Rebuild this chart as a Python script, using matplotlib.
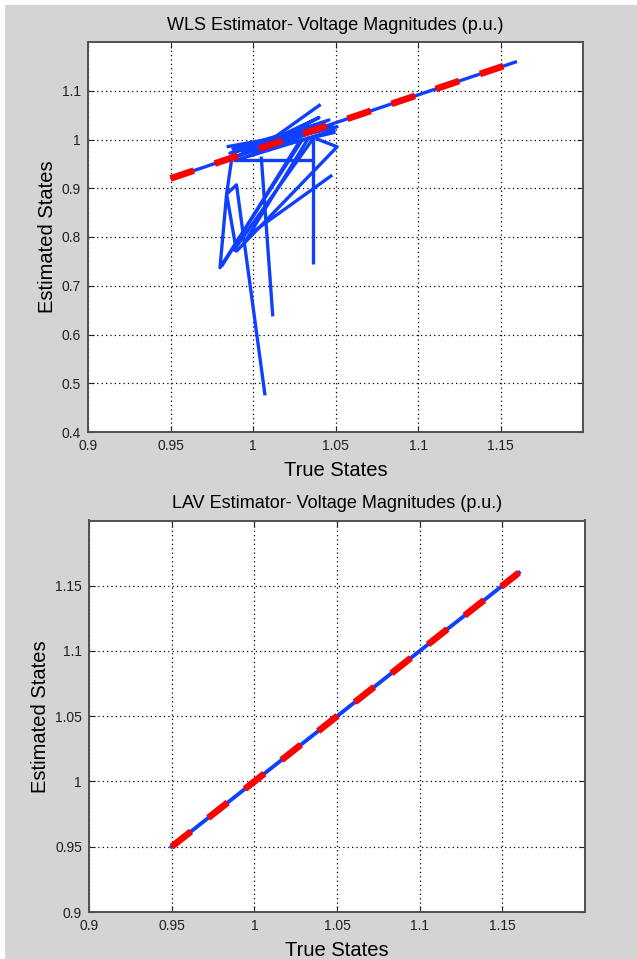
import matplotlib.pyplot as plt
from matplotlib.patches import Rectangle

plt.rcParams['font.family'] = ['Liberation Sans', 'DejaVu Sans']

# WLS estimates plotted against true bus voltages (p.u.), one trace per run
wls_true = [
    [0.950, 1.160],
    [0.984, 1.051, 0.986, 1.046, 0.990, 1.040, 1.000, 1.050],
    [0.987, 1.043, 0.995, 1.048, 0.992, 1.050],
    [1.005, 1.041],
    [0.988, 1.037],
    [1.0365, 1.0365],
    [1.038, 1.051, 0.990, 0.984],
    [1.030, 0.980, 0.984, 0.990, 1.0073],
    [0.984, 0.987],
    [1.005, 1.012],
    [1.048, 0.999],
    [0.988, 1.036],
    [0.994, 1.034],
    [1.028, 0.981],
]
wls_est = [
    [0.920, 1.160],
    [0.985, 1.026, 0.972, 1.040, 0.965, 1.045, 0.975, 1.015],
    [0.980, 1.035, 0.985, 1.030, 0.960, 1.020],
    [0.985, 1.072],
    [0.958, 0.958],
    [1.010, 0.745],
    [1.002, 0.985, 0.771, 0.888],
    [1.000, 0.737, 0.888, 0.907, 0.475],
    [0.888, 0.958],
    [0.965, 0.637],
    [0.927, 0.808],
    [0.771, 1.000],
    [0.784, 1.005],
    [0.995, 0.740],
]
wls_ref_true = [0.95, 1.16]
wls_ref_est = [0.92, 1.16]

# LAV estimates
lav_true = [0.95, 1.16]
lav_est = [0.95, 1.16]

wls_xticks = [0.9, 0.95, 1.0, 1.05, 1.1, 1.15]
wls_yticks = [0.4, 0.5, 0.6, 0.7, 0.8, 0.9, 1.0, 1.1]
lav_yticks = [0.9, 0.95, 1.0, 1.05, 1.1, 1.15]

blue = '#1040ff'
red = '#ff0000'
bg = '#d4d4d4'

fig = plt.figure(figsize=(6.37, 9.59), dpi=100, facecolor=bg)
# thin white border on the left and top
fig.patches.append(Rectangle((0, 0), 5 / 637, 1, transform=fig.transFigure,
                             facecolor='white', edgecolor='none', zorder=-1))
fig.patches.append(Rectangle((0, 1 - 5 / 959), 1, 5 / 959, transform=fig.transFigure,
                             facecolor='white', edgecolor='none', zorder=-1))

ax1 = fig.add_axes([88 / 637, (959 - 432) / 959, 495 / 637, 390 / 959])
ax2 = fig.add_axes([89 / 637, (959 - 912) / 959, 496 / 637, 391.5 / 959])


def fmt(v):
    return ('%g' % v)


def style(ax, title, yticks, ylim):
    ax.set_xlim(0.9, 1.2)
    ax.set_ylim(*ylim)
    ax.set_xticks(wls_xticks)
    ax.set_xticklabels([fmt(t) for t in wls_xticks])
    ax.set_yticks(yticks)
    ax.set_yticklabels([fmt(t) for t in yticks])
    ax.tick_params(direction='in', length=4, width=0.8, top=True, right=True,
                   labelsize=10, colors='#202020', pad=5)
    ax.grid(True, color='black', linestyle=(0, (1, 2.5)), linewidth=0.9)
    for s in ax.spines.values():
        s.set_color('#505050')
        s.set_linewidth(1.4)
    ax.set_title(title, fontsize=13, pad=9)
    ax.set_xlabel('True States', fontsize=14.5, labelpad=6)
    ax.set_ylabel('Estimated States', fontsize=14.5, labelpad=3.5)


for xs, ys in zip(wls_true, wls_est):
    ax1.plot(xs, ys, color=blue, linewidth=2.4, solid_capstyle='butt')
ax1.plot(wls_ref_true, wls_ref_est, color=red, linewidth=4.8,
         linestyle=(0, (3.7, 3.3)), dash_capstyle='butt')
style(ax1, 'WLS Estimator- Voltage Magnitudes (p.u.)', wls_yticks, (0.4, 1.2))

ax2.plot(lav_true, lav_est, color=blue, linewidth=2.8)
ax2.plot(lav_true, lav_est, color=red, linewidth=4.8,
         linestyle=(0, (3.7, 3.3)), dash_capstyle='butt')
style(ax2, 'LAV Estimator- Voltage Magnitudes (p.u.)', lav_yticks, (0.9, 1.2))

fig.savefig('out.png', dpi=100, facecolor=bg)
